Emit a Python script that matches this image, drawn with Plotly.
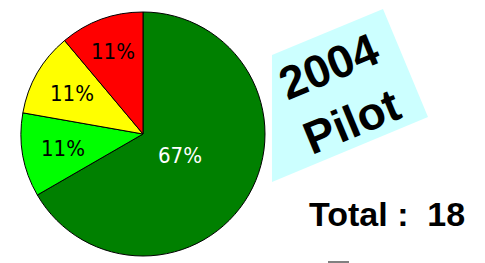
import math
import plotly.graph_objects as go

categories = ["Dark green", "Green", "Yellow", "Red"]
counts = [12, 2, 2, 2]
slice_colors = ["#008000", "#00FF00", "#FFFF00", "#FF0000"]
label_colors = ["white", "black", "black", "black"]
label_radius = [0.35, 0.67, 0.67, 0.72]   # fraction of pie radius where each label sits
title_text = "2004<br>Pilot"
total_text = "Total :&nbsp; " + str(sum(counts))

W, H = 485, 263

def px(x):
    return x / W

def py(y):
    return 1 - y / H

cx, cy, R = 143, 134, 122

fig = go.Figure()
fig.add_trace(go.Pie(
    labels=categories,
    values=counts,
    sort=False,
    direction="clockwise",
    rotation=0,
    marker=dict(colors=slice_colors, line=dict(color="black", width=1)),
    textinfo="none",
    domain=dict(x=[px(cx - R), px(cx + R)], y=[py(cy + R), py(cy - R)]),
    showlegend=False,
    hoverinfo="skip",
))

# percentage labels placed at each slice's mid-angle
total = sum(counts)
cum = 0
for v, col, rf in zip(counts, label_colors, label_radius):
    mid = (cum + v / 2) / total * 2 * math.pi
    cum += v
    lx = cx + rf * R * math.sin(mid)
    ly = cy - rf * R * math.cos(mid)
    fig.add_annotation(text=f"{round(100 * v / total)}%", x=px(lx), y=py(ly),
                       xref="paper", yref="paper", showarrow=False,
                       xanchor="center", yanchor="middle",
                       font=dict(family="DejaVu Sans Condensed", size=22, color=col))

# light cyan rotated box (clipped on its left side)
box = [(272, 55), (383, 9), (428, 117), (272, 182)]
path = "M " + " L ".join(f"{px(x)},{py(y)}" for x, y in box) + " Z"
fig.add_shape(type="path", path=path, xref="paper", yref="paper",
              fillcolor="#CCFFFF", line=dict(width=0), layer="below")

fig.add_annotation(text=f"<b>{title_text}</b>", x=px(340), y=py(94),
                   xref="paper", yref="paper", showarrow=False,
                   textangle=-22.5, xanchor="center", yanchor="middle",
                   font=dict(family="Liberation Sans, Arial, sans-serif", size=46, color="black"))

fig.add_annotation(text=f"<b>{total_text}</b>", x=px(387), y=py(214),
                   xref="paper", yref="paper", showarrow=False,
                   xanchor="center", yanchor="middle",
                   font=dict(family="Liberation Sans, Arial, sans-serif", size=34, color="black"))

fig.add_shape(type="line", x0=px(328), x1=px(349), y0=py(262), y1=py(262),
              xref="paper", yref="paper", line=dict(color="#808080", width=2))

fig.update_layout(width=W, height=H, margin=dict(l=0, r=0, t=0, b=0),
                  paper_bgcolor="white", plot_bgcolor="white")
fig.write_html("out.html", post_script="document.body.style.margin='0px';",
               config={"displayModeBar": False})
